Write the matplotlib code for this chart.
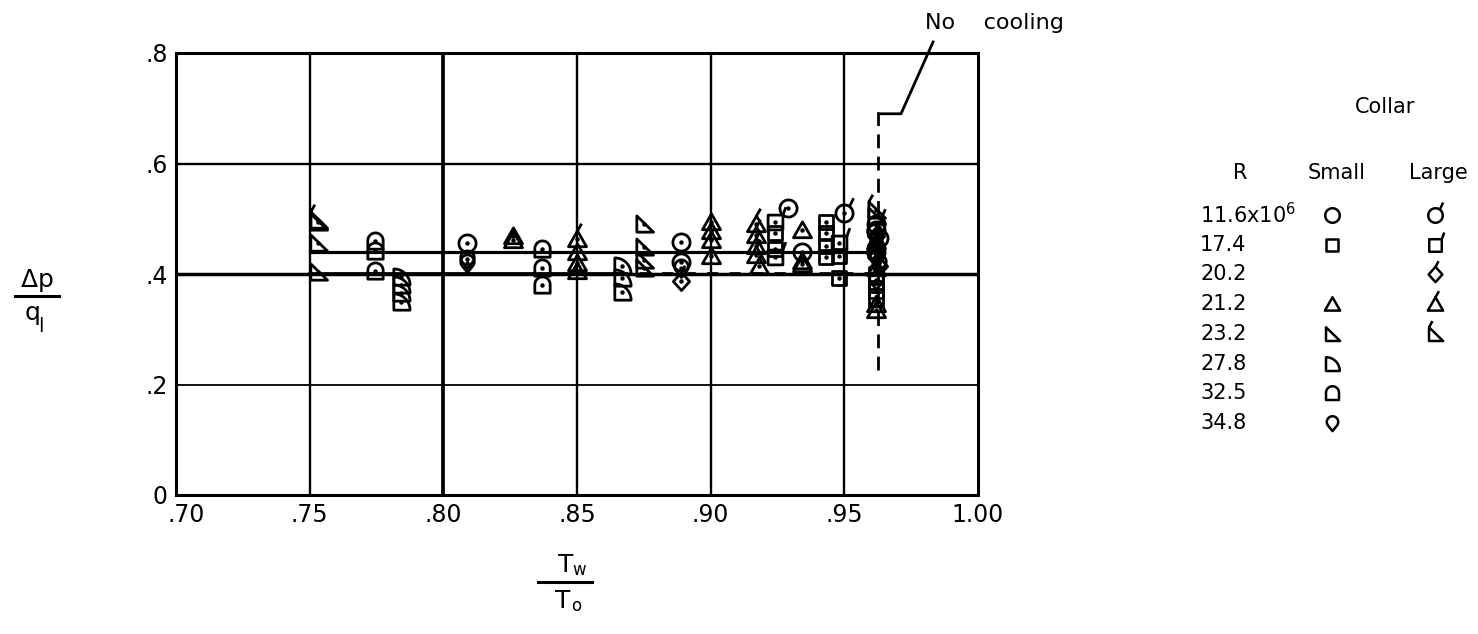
import numpy as np
import matplotlib
matplotlib.use("Agg")
import matplotlib.pyplot as plt
import matplotlib.transforms as mtransforms
from matplotlib.path import Path

plt.rcParams['font.family'] = ['DejaVu Sans']

# T_w/T_o and dp/q_l, grouped by R and collar size
tw_116_s = [0.809, 0.889, 0.889, 0.929, 0.934, 0.962, 0.962, 0.963]
dp_116_s = [0.456, 0.458, 0.422, 0.520, 0.440, 0.480, 0.440, 0.465]
tw_116_l = [0.950, 0.962]
dp_116_l = [0.510, 0.490]

tw_174_s = [0.924, 0.924, 0.943, 0.943, 0.943, 0.943, 0.948, 0.948, 0.962, 0.962, 0.962, 0.962]
dp_174_s = [0.475, 0.445, 0.495, 0.475, 0.450, 0.430, 0.433, 0.392, 0.400, 0.385, 0.370, 0.355]
tw_174_l = [0.924, 0.924, 0.948]
dp_174_l = [0.495, 0.430, 0.457]

tw_202_l = [0.889, 0.962, 0.962, 0.962, 0.963, 0.961]
dp_202_l = [0.388, 0.468, 0.452, 0.430, 0.415, 0.440]

tw_212_s = [0.826, 0.826, 0.850, 0.850, 0.850, 0.900, 0.900, 0.900, 0.900, 0.934, 0.934, 0.934, 0.962, 0.962, 0.962]
dp_212_s = [0.468, 0.462, 0.440, 0.420, 0.405, 0.495, 0.478, 0.462, 0.432, 0.480, 0.424, 0.418, 0.410, 0.345, 0.335]
tw_212_l = [0.850, 0.917, 0.917, 0.917, 0.917, 0.918, 0.962]
dp_212_l = [0.463, 0.490, 0.470, 0.450, 0.435, 0.415, 0.460]

tw_232_s = [0.753, 0.753, 0.753, 0.875, 0.875, 0.875, 0.875, 0.962]
dp_232_s = [0.494, 0.456, 0.404, 0.490, 0.449, 0.425, 0.410, 0.505]
tw_232_l = [0.753, 0.962]
dp_232_l = [0.497, 0.515]

tw_278_s = [0.784, 0.784, 0.784, 0.784, 0.867, 0.867, 0.867]
dp_278_s = [0.395, 0.380, 0.365, 0.350, 0.415, 0.393, 0.368]

tw_325_s = [0.7745, 0.7745, 0.7745, 0.837, 0.837, 0.837]
dp_325_s = [0.460, 0.442, 0.405, 0.445, 0.410, 0.380]

tw_348_s = [0.809, 0.809, 0.889, 0.962, 0.962, 0.963, 0.962, 0.961]
dp_348_s = [0.428, 0.420, 0.410, 0.450, 0.435, 0.420, 0.390, 0.475]

# faired lines and the no-cooling line
fair_hi_x = [0.75, 0.9625]
fair_hi_y = [0.44, 0.44]
fair_lo_x = [0.75, 0.865]
fair_lo_y = [0.40, 0.40]
fair_lo_dash_x = [0.865, 0.9625]
fair_lo_dash_y = [0.40, 0.40]
nocool_x = [0.9625, 0.9625]
nocool_y = [0.226, 0.70]

x_ticks = [0.70, 0.75, 0.80, 0.85, 0.90, 0.95, 1.00]
x_ticklabels = ['.70', '.75', '.80', '.85', '.90', '.95', '1.00']
y_ticks = [0, 0.2, 0.4, 0.6, 0.8]
y_ticklabels = ['0', '.2', '.4', '.6', '.8']

legend_R = ['11.6x10$^6$', '17.4', '20.2', '21.2', '23.2', '27.8', '32.5', '34.8']
legend_small = ['circle', 'square', None, 'tri', 'rtri', 'quarter', 'arch', 'drop']
legend_large = ['circle', 'square', 'diamond', 'tri', 'rtri', None, None, None]


# ---- marker shapes ----
def arc(cx, cy, r, t0, t1, n=30):
    t = np.radians(np.linspace(t0, t1, n))
    return list(zip(cx + r * np.cos(t), cy + r * np.sin(t)))

shapes = {
    'circle': arc(0, 0, 0.95, 0, 360, 60),
    'square': [(-0.82, -0.82), (0.82, -0.82), (0.82, 0.82), (-0.82, 0.82)],
    'diamond': [(0, -1.0), (0.9, 0), (0, 1.0), (-0.9, 0)],
    'tri': [(-1.0, -0.8), (1.0, -0.8), (0, 0.95)],
    'rtri': [(-0.85, -0.85), (1.0, -0.85), (-0.85, 0.95)],
    'quarter': [(-0.85, -0.85)] + arc(-0.85, -0.85, 1.8, 0, 90),
    'arch': [(-0.85, -0.85), (0.85, -0.85)] + arc(0, 0.1, 0.85, 0, 180),
    'drop': [(0, -1.0)] + arc(0, 0.2, 0.75, -38.7, 218.7),
}
flags = {
    'circle': [(0.55, 0.75), (1.0, 1.7)],
    'square': [(0.82, 0.82), (1.15, 1.7)],
    'diamond': [(0, 1.0), (0.4, 1.75)],
    'tri': [(0, 0.95), (0.45, 1.75)],
    'rtri': [(-0.85, 0.95), (-0.4, 1.75)],
}


def marker(name, flag=False):
    verts = list(shapes[name])
    codes = [Path.MOVETO] + [Path.LINETO] * (len(verts) - 1) + [Path.CLOSEPOLY]
    verts = verts + [verts[0]]
    if flag:
        verts += flags[name]
        codes += [Path.MOVETO, Path.LINETO]
    verts = np.array(verts)
    return Path(verts, codes), np.abs(verts).max()


def scatter(ax, x, y, name, flag=False, ms=13, dots=True, lw=2.0):
    p, s = marker(name, flag)
    ax.plot(x, y, ls='none', marker=p, ms=ms * s, mfc='none', mec='black',
            mew=lw, clip_on=False, zorder=4)
    if dots:
        ax.plot(x, y, ls='none', marker='o', ms=2.2, color='black', zorder=5)


fig = plt.figure(figsize=(14.78, 6.34), dpi=100)
W, H = 1478, 634
ax = fig.add_axes([176 / W, 1 - 495 / H, (978 - 176) / W, (495 - 53) / H])
ax.set_xlim(0.70, 1.00)
ax.set_ylim(0, 0.8)
ax.set_xticks(x_ticks)
ax.set_xticklabels(x_ticklabels)
ax.set_yticks(y_ticks)
ax.set_yticklabels(y_ticklabels)
ax.tick_params(length=0, labelsize=17, pad=6)
# nudge ".70" to the right so it clears the "0" of the y axis
first = ax.get_xticklabels()[0]
first.set_transform(first.get_transform() +
                    mtransforms.ScaledTranslation(10 / 100, 0, fig.dpi_scale_trans))
for sp in ax.spines.values():
    sp.set_linewidth(2.2)

vwidth = {0.75: 1.7, 0.80: 2.7, 0.85: 1.7, 0.90: 1.7, 0.95: 1.7}
for xv in x_ticks[1:-1]:
    ax.axvline(xv, color='black', lw=vwidth[xv], zorder=1)
hwidth = {0.2: 1.3, 0.4: 2.5, 0.6: 1.7}
for yv in y_ticks[1:-1]:
    ax.axhline(yv, color='black', lw=hwidth[yv], zorder=1)

ax.plot(fair_hi_x, fair_hi_y, color='black', lw=2.3, zorder=2)
ax.plot(fair_lo_x, fair_lo_y, color='black', lw=2.7, zorder=2)
ax.plot(fair_lo_dash_x, fair_lo_dash_y, color='black', lw=2.7, ls=(0, (3, 3)), zorder=2)
ax.plot(nocool_x, nocool_y, color='black', lw=2.0, ls=(0, (5, 3)), zorder=2)

# leader for "No cooling"
ax.plot([0.9638, 0.9712, 0.9832], [0.69, 0.69, 0.82], color='black', lw=2.0, clip_on=False)
ax.text(0.9800, 0.855, 'No    cooling', fontsize=16, ha='left', va='center', clip_on=False)

scatter(ax, tw_116_s, dp_116_s, 'circle')
scatter(ax, tw_116_l, dp_116_l, 'circle', flag=True)
scatter(ax, tw_174_s, dp_174_s, 'square')
scatter(ax, tw_174_l, dp_174_l, 'square', flag=True)
scatter(ax, tw_202_l, dp_202_l, 'diamond', flag=True)
scatter(ax, tw_212_s, dp_212_s, 'tri')
scatter(ax, tw_212_l, dp_212_l, 'tri', flag=True)
scatter(ax, tw_232_s, dp_232_s, 'rtri')
scatter(ax, tw_232_l, dp_232_l, 'rtri', flag=True)
scatter(ax, tw_278_s, dp_278_s, 'quarter')
scatter(ax, tw_325_s, dp_325_s, 'arch')
scatter(ax, tw_348_s, dp_348_s, 'drop')

# overlay in pixel units for labels and key
ov = fig.add_axes([0, 0, 1, 1], zorder=-1)
ov.set_xlim(0, W)
ov.set_ylim(H, 0)
ov.axis('off')

# y label  dp / q_l
ov.text(37, 281, r'$\mathregular{\Delta p}$', fontsize=18, ha='center', va='center')
ov.plot([15, 59], [296, 296], color='black', lw=2.2)
ov.text(33, 313, 'q', fontsize=18, ha='center', va='center')
ov.text(41, 327, 'l', fontsize=14, ha='center', va='center')

# x label  T_w / T_o
ov.text(566, 565, 'T', fontsize=18, ha='center', va='center')
ov.text(579, 570, 'w', fontsize=12, ha='center', va='center')
ov.plot([538, 592], [582, 582], color='black', lw=2.2)
ov.text(563, 601, 'T', fontsize=18, ha='center', va='center')
ov.text(576, 606, 'o', fontsize=12, ha='center', va='center')

# key
ov.text(1385, 107, 'Collar', fontsize=15, ha='center', va='center')
ov.text(1240, 173, 'R', fontsize=15, ha='center', va='center')
ov.text(1337, 173, 'Small', fontsize=15, ha='center', va='center')
ov.text(1438, 173, 'Large', fontsize=15, ha='center', va='center')
for i, lab in enumerate(legend_R):
    yy = 215 + i * 29.7
    ov.text(1200, yy, lab, fontsize=15, ha='left', va='center')
    if legend_small[i]:
        scatter(ov, [1332], [yy], legend_small[i], ms=11, dots=False, lw=1.8)
    if legend_large[i]:
        scatter(ov, [1435], [yy], legend_large[i], flag=True, ms=11, dots=False, lw=1.8)

fig.savefig('out.png', dpi=100)
